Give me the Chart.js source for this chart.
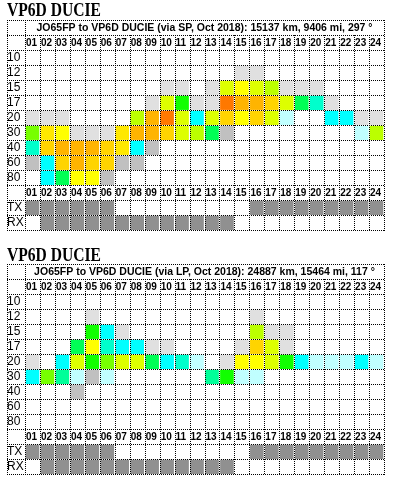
<!DOCTYPE html>
<html>
<head>
<meta charset="utf-8">
<title>VP6D DUCIE</title>
<script src="https://cdn.jsdelivr.net/npm/chart.js@4.4.0/dist/chart.umd.min.js"></script>
<style>
  body { margin: 0; background: #fff; }
  .block { position: relative; width: 393px; height: 244px; }
  .block canvas { position: absolute; left: 0; top: 0; }
  .heading {
    position: absolute; left: 7px; top: 0; z-index: 2;
    font: bold 19px/19px "Liberation Serif", "Times New Roman", serif;
    transform: scaleX(0.82); transform-origin: left top; white-space: nowrap;
  }
</style>
</head>
<body>
<div class="block">
  <canvas id="chart-sp" width="393" height="244"></canvas>
  <div class="heading">VP6D DUCIE</div>
</div>
<div class="block">
  <canvas id="chart-lp" width="393" height="244"></canvas>
  <div class="heading" style="top: 1px">VP6D DUCIE</div>
</div>
<script>
const hourLabels = ['01', '02', '03', '04', '05', '06', '07', '08', '09', '10', '11', '12',
    '13', '14', '15', '16', '17', '18', '19', '20', '21', '22', '23', '24'];
const bandLabels = ['10', '12', '15', '17', '20', '30', '40', '60', '80'];

// 0 = empty cell, higher = better reliability
const levelColors = [null, '#e0e0e0', '#c0c0c0', '#c0ffff', '#00ffff', '#00ffcc', '#00ff99',
    '#00ff55', '#11ff00', '#77ff00', '#bbff00', '#ddff00', '#ffff00', '#ffe800', '#ffd400',
    '#ffb400', '#ff7800'];
const trxColor = '#909090';

const spHeader = 'JO65FP to VP6D DUCIE (via SP, Oct 2018): 15137 km, 9406 mi, 297 °';
const spLevels = [
    [0, 0, 0, 0, 0, 0, 0, 0, 0, 0, 0, 0, 0, 0, 0, 0, 0, 0, 0, 0, 0, 0, 0, 0],
    [0, 0, 0, 0, 0, 0, 0, 0, 0, 0, 0, 0, 0, 0, 1, 1, 0, 0, 0, 0, 0, 0, 0, 0],
    [0, 0, 0, 0, 0, 0, 0, 0, 0, 1, 1, 0, 1, 11, 12, 11, 10, 1, 1, 1, 0, 0, 0, 0],
    [0, 0, 0, 0, 0, 0, 0, 0, 1, 11, 8, 1, 1, 16, 15, 15, 14, 11, 7, 5, 1, 0, 0, 0],
    [1, 1, 1, 0, 0, 0, 0, 10, 15, 16, 11, 4, 11, 14, 12, 14, 11, 3, 0, 0, 4, 4, 1, 1],
    [9, 13, 12, 1, 1, 1, 13, 15, 15, 14, 11, 10, 7, 2, 0, 0, 0, 0, 0, 0, 0, 0, 3, 10],
    [5, 14, 15, 15, 15, 14, 13, 4, 2, 0, 0, 0, 0, 0, 0, 0, 0, 0, 0, 0, 0, 0, 0, 0],
    [2, 4, 14, 15, 14, 14, 2, 2, 0, 0, 0, 0, 0, 0, 0, 0, 0, 0, 0, 0, 0, 0, 0, 0],
    [0, 4, 7, 12, 12, 2, 0, 0, 0, 0, 0, 0, 0, 0, 0, 0, 0, 0, 0, 0, 0, 0, 0, 0]
];

const lpHeader = 'JO65FP to VP6D DUCIE (via LP, Oct 2018): 24887 km, 15464 mi, 117 °';
const lpLevels = [
    [0, 0, 0, 0, 0, 0, 0, 0, 0, 0, 0, 0, 0, 0, 0, 0, 0, 0, 0, 0, 0, 0, 0, 0],
    [0, 0, 0, 0, 1, 0, 0, 0, 0, 0, 0, 0, 0, 0, 0, 1, 0, 0, 0, 0, 0, 0, 0, 0],
    [0, 0, 0, 0, 8, 4, 1, 0, 0, 0, 0, 0, 0, 0, 0, 10, 1, 1, 0, 0, 0, 0, 0, 0],
    [0, 0, 0, 7, 12, 5, 4, 4, 1, 1, 0, 0, 0, 0, 1, 14, 11, 1, 0, 0, 0, 0, 0, 0],
    [1, 0, 4, 11, 8, 9, 11, 11, 7, 4, 5, 3, 0, 1, 12, 12, 11, 8, 4, 3, 3, 3, 4, 3],
    [4, 9, 6, 3, 2, 3, 0, 0, 0, 0, 0, 0, 6, 8, 3, 3, 0, 0, 0, 0, 0, 0, 0, 0],
    [0, 0, 0, 2, 0, 0, 0, 0, 0, 0, 0, 0, 0, 0, 0, 0, 0, 0, 0, 0, 0, 0, 0, 0],
    [0, 0, 0, 0, 0, 0, 0, 0, 0, 0, 0, 0, 0, 0, 0, 0, 0, 0, 0, 0, 0, 0, 0, 0],
    [0, 0, 0, 0, 0, 0, 0, 0, 0, 0, 0, 0, 0, 0, 0, 0, 0, 0, 0, 0, 0, 0, 0, 0]
];

// station on air (TX) / listening (RX), same for both paths
const txHours = [1, 1, 1, 1, 1, 1, 0, 0, 0, 0, 0, 0, 0, 0, 0, 1, 1, 1, 1, 1, 1, 1, 1, 1];
const rxHours = [0, 1, 1, 1, 1, 1, 1, 1, 1, 1, 1, 1, 1, 1, 0, 0, 0, 0, 0, 0, 0, 0, 0, 0];

// table rows top to bottom: path header, hours, bands, hours, TX, RX
const rowLabels = ['', '', ...bandLabels, '', 'TX', 'RX'];
const HEADER_ROW = 0;
const HOUR_ROWS = [1, 11];

const FONT = '"Liberation Sans", Arial, sans-serif';

const tableGridPlugin = {
    id: 'tableGrid',
    afterDatasetsDraw(chart, args, opts) {
        const { ctx, chartArea, scales: { x, y } } = chart;
        const rowH = y.getPixelForValue(1) - y.getPixelForValue(0);
        const top = chartArea.top;
        const bottom = top + rowH * rowLabels.length;
        const left = y.left;
        const right = chartArea.right;
        const px = v => Math.round(v) + 0.5;

        ctx.save();
        ctx.strokeStyle = '#000';
        ctx.lineWidth = 1;
        ctx.setLineDash([1, 1]);
        ctx.beginPath();
        for (let i = 0; i <= rowLabels.length; i++) {
            const yy = px(top + i * rowH);
            ctx.moveTo(left, yy);
            ctx.lineTo(right + 1, yy);
        }
        [left, chartArea.left, right].forEach(xx => {
            ctx.moveTo(px(xx), top);
            ctx.lineTo(px(xx), bottom + 1);
        });
        for (let h = 1; h < hourLabels.length; h++) {
            const xx = px(x.getPixelForValue(h));
            ctx.moveTo(xx, top + rowH);
            ctx.lineTo(xx, bottom);
        }
        ctx.stroke();

        ctx.fillStyle = '#000';
        ctx.textBaseline = 'middle';
        ctx.textAlign = 'center';
        ctx.font = 'bold 10.5px ' + FONT;
        ctx.fillText(opts.header, (chartArea.left + right) / 2, y.getPixelForValue(HEADER_ROW) + 1);

        ctx.textAlign = 'left';
        ctx.font = 'bold 10px ' + FONT;
        HOUR_ROWS.forEach(row => {
            hourLabels.forEach((label, h) => {
                ctx.fillText(label, x.getPixelForValue(h) + 1, y.getPixelForValue(row) + 1);
            });
        });
        ctx.restore();
    }
};

function buildRowColors(levels) {
    const bands = levels.map(row => row.map(v => levelColors[v]));
    const tx = txHours.map(v => v ? trxColor : null);
    const rx = rxHours.map(v => v ? trxColor : null);
    return [null, null, ...bands, null, tx, rx];
}

function createPathChart(canvasId, header, levels) {
    const rows = buildRowColors(levels);

    const datasets = hourLabels.map((hour, h) => ({
        label: hour,
        data: rows.map(r => (r && r[h]) ? [h, h + 1] : null),
        backgroundColor: rows.map(r => (r && r[h]) ? r[h] : 'rgba(0,0,0,0)'),
        borderColor: '#ffffff',
        borderWidth: { top: 1, bottom: 0, left: 1, right: 1 },
        borderSkipped: false,
        grouped: false,
        barPercentage: 1,
        categoryPercentage: 1
    }));

    const ctx = document.getElementById(canvasId).getContext('2d');
    return new Chart(ctx, {
        type: 'bar',
        data: { labels: rowLabels, datasets: datasets },
        options: {
            responsive: false,
            animation: false,
            indexAxis: 'y',
            events: [],
            layout: { padding: { top: 20, left: 7, right: 9, bottom: 14 } },
            plugins: {
                legend: { display: false },
                tooltip: { enabled: false },
                tableGrid: { header: header }
            },
            scales: {
                x: { type: 'linear', min: 0, max: 24, display: false },
                y: {
                    type: 'category',
                    grid: { display: false },
                    border: { display: false },
                    ticks: {
                        color: '#000',
                        font: { family: FONT, size: 12 },
                        crossAlign: 'far',
                        padding: 0,
                        autoSkip: false
                    },
                    afterFit: scale => { scale.width = 18; }
                }
            }
        },
        plugins: [tableGridPlugin]
    });
}

createPathChart('chart-sp', spHeader, spLevels);
createPathChart('chart-lp', lpHeader, lpLevels);
</script>
</body>
</html>
